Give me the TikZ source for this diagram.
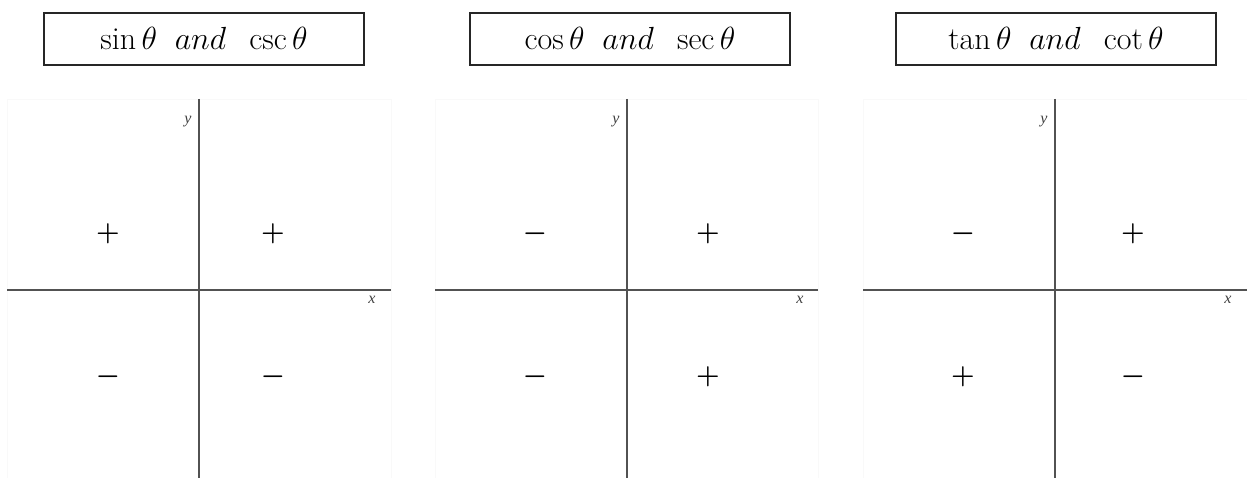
\RequirePackage{fix-cm}
\documentclass[tikz,border=0pt]{standalone}
\usepackage{fontspec}
\newfontfamily\lblfont{Liberation Serif}
\begin{document}
\begin{tikzpicture}[x=1pt,y=-1pt,
  titlebox/.style={draw=black!85,line width=1.2pt,minimum width=320pt,minimum height=52pt,inner sep=0pt,font=\fontsize{32}{36}\selectfont},
  frame/.style={draw=black!2.5,line width=0.8pt},
  axis/.style={draw=black!68,line width=1.8pt},
  sgn/.style={font=\fontsize{27}{30}\selectfont\boldmath,inner sep=0pt},
  lbl/.style={font=\lblfont\itshape\fontsize{16}{18}\selectfont,text=black!75,inner sep=0pt}]
\useasboundingbox (0,0) rectangle (1247,478);
% title boxes
\node[titlebox] (t1) at (204,39) {$\sin\theta\;\; and\;\; \csc\theta$};
\node[titlebox] (t2) at (630,39) {$\cos\theta\;\; and\;\; \sec\theta$};
\node[titlebox] (t3) at (1056,39) {$\tan\theta\;\; and\;\; \cot\theta$};
% graph 1
\draw[frame] (7,478) -- (7,99) -- (391,99) -- (391,478);
\coordinate (a1l) at (7,290); \coordinate (a1r) at (391,290);
\coordinate (a1t) at (199,99); \coordinate (a1b) at (199,478);
\draw[axis] (a1l) -- (a1r);
\draw[axis] (a1t) -- (a1b);
\node[lbl] (y1) at (188,122) {y};
\node[lbl] (x1) at (372,300) {x};
\node[sgn] (s1a) at (108,234) {$+$};
\node[sgn] (s1b) at (273,234) {$+$};
\node[sgn] (s1c) at (108,377) {$-$};
\node[sgn] (s1d) at (273,377) {$-$};
% graph 2
\draw[frame] (435,478) -- (435,99) -- (818,99) -- (818,478);
\coordinate (a2l) at (435,290); \coordinate (a2r) at (818,290);
\coordinate (a2t) at (627,99); \coordinate (a2b) at (627,478);
\draw[axis] (a2l) -- (a2r);
\draw[axis] (a2t) -- (a2b);
\node[lbl] (y2) at (616,122) {y};
\node[lbl] (x2) at (800,300) {x};
\node[sgn] (s2a) at (535,234) {$-$};
\node[sgn] (s2b) at (708,234) {$+$};
\node[sgn] (s2c) at (535,377) {$-$};
\node[sgn] (s2d) at (708,377) {$+$};
% graph 3
\draw[frame] (863,478) -- (863,99) -- (1247,99);
\coordinate (a3l) at (863,290); \coordinate (a3r) at (1247,290);
\coordinate (a3t) at (1055,99); \coordinate (a3b) at (1055,478);
\draw[axis] (a3l) -- (a3r);
\draw[axis] (a3t) -- (a3b);
\node[lbl] (y3) at (1044,122) {y};
\node[lbl] (x3) at (1228,300) {x};
\node[sgn] (s3a) at (963,234) {$-$};
\node[sgn] (s3b) at (1133,234) {$+$};
\node[sgn] (s3c) at (963,377) {$+$};
\node[sgn] (s3d) at (1133,377) {$-$};
\end{tikzpicture}
\end{document}
